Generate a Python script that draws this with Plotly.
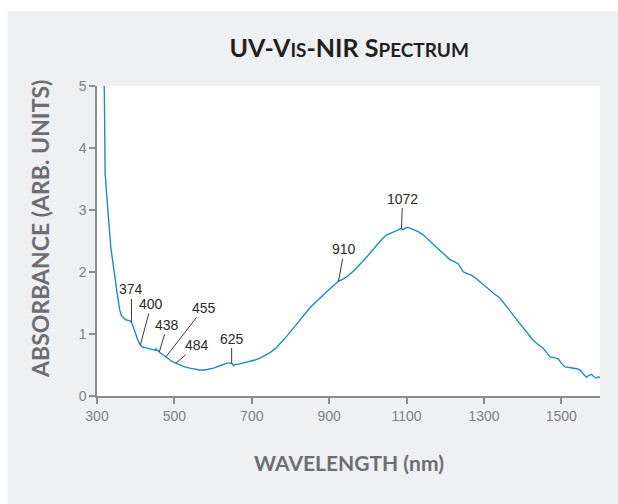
import numpy as np
import plotly.graph_objects as go

# spectrum (wavelength in nm, absorbance)
wavelength = [
    317, 319, 321, 322, 325, 326, 329, 333, 336, 340, 344, 348, 351, 355, 359, 363,
    368, 374, 381, 386, 390, 395, 400, 405, 411, 417, 424, 431, 438, 445, 450, 452,
    456, 461, 465, 470, 476, 482, 489, 496, 504, 514, 527, 540, 553, 566, 579, 590,
    601, 614, 626, 636, 644, 650, 653, 657, 664, 670, 683, 695, 708, 721, 734, 747,
    760, 773, 786, 799, 812, 825, 838, 850, 863, 876, 889, 902, 913, 924, 937, 949,
    962, 975, 988, 1001, 1014, 1027, 1038, 1049, 1058, 1066, 1076, 1082, 1087, 1091,
    1097, 1104, 1112, 1122, 1130, 1143, 1156, 1169, 1182, 1195, 1204, 1212, 1222,
    1234, 1242, 1247, 1258, 1268, 1279, 1290, 1302, 1315, 1328, 1341, 1352, 1363,
    1376, 1389, 1400, 1410, 1420, 1427, 1440, 1453, 1462, 1471, 1482, 1492, 1500,
    1509, 1520, 1531, 1540, 1548, 1556, 1565, 1571, 1578, 1584, 1591, 1596, 1600,
]
absorbance = [
    5.40, 4.90, 3.56, 3.52, 3.24, 3.15, 2.85, 2.52, 2.38, 2.20, 2.05, 1.85, 1.70, 1.52, 1.38, 1.30,
    1.26, 1.23, 1.22, 1.21, 1.18, 1.08, 0.99, 0.91, 0.83, 0.79, 0.78, 0.77, 0.76, 0.75, 0.74, 0.76,
    0.73, 0.71, 0.69, 0.67, 0.64, 0.61, 0.58, 0.55, 0.53, 0.50, 0.47, 0.45, 0.43, 0.42, 0.42, 0.43,
    0.45, 0.48, 0.51, 0.53, 0.53, 0.52, 0.49, 0.51, 0.51, 0.52, 0.53, 0.55, 0.58, 0.61, 0.65, 0.70,
    0.76, 0.84, 0.93, 1.03, 1.13, 1.24, 1.33, 1.42, 1.50, 1.58, 1.65, 1.73, 1.79, 1.85, 1.89, 1.94,
    2.01, 2.09, 2.18, 2.27, 2.37, 2.46, 2.54, 2.60, 2.62, 2.64, 2.67, 2.69, 2.70, 2.68,
    2.71, 2.72, 2.70, 2.68, 2.65, 2.60, 2.52, 2.44, 2.37, 2.30, 2.25, 2.20, 2.17,
    2.13, 2.05, 2.00, 1.97, 1.95, 1.90, 1.84, 1.78, 1.71, 1.64, 1.58, 1.50, 1.41,
    1.30, 1.20, 1.12, 1.04, 0.96, 0.90, 0.83, 0.77, 0.70, 0.63, 0.62, 0.60, 0.53,
    0.47, 0.46, 0.45, 0.44, 0.42, 0.36, 0.30, 0.33, 0.35, 0.31, 0.29, 0.31, 0.29,
]

# labelled bands and where their leader lines touch the curve
band_labels = ["374", "400", "438", "455", "484", "625", "910", "1072"]
band_at = [389, 412, 461, 478, 504, 648, 924, 1087]

x_ticks = [300, 500, 700, 900, 1100, 1300, 1500]
y_ticks = [0, 1, 2, 3, 4, 5]

# pixel offsets of each label from its leader tip
label_offsets = [(0, -33), (11, -41), (8, -27), (38, -49), (21, -18), (0, -25), (6, -32), (1, -30)]

fig = go.Figure()
fig.add_trace(go.Scatter(
    x=wavelength, y=absorbance, mode="lines",
    line=dict(color="#1b8bd1", width=1.4),
    hoverinfo="skip",
))

band_y = np.interp(band_at, wavelength, absorbance)
for lab, bx, by, (dx, dy) in zip(band_labels, band_at, band_y, label_offsets):
    fig.add_annotation(
        x=bx, y=by, text=lab, showarrow=True, arrowhead=0, arrowwidth=1,
        arrowcolor="#3a3a3a", ax=dx, ay=dy, standoff=0,
        font=dict(family="Liberation Sans, Arial", size=14, color="#2b2b2b"),
    )

grey = "#6d6e71"
fig.add_annotation(
    xref="paper", yref="paper", x=-0.1133, y=0.539, textangle=-90, showarrow=False,
    xanchor="center", yanchor="middle",
    text="<b>ABSORBANCE (ARB. UNITS)</b>",
    font=dict(family="Lato", size=23, color=grey),
)
fig.add_annotation(
    xref="paper", yref="paper", x=0.501, y=-0.213, showarrow=False,
    xanchor="center", yanchor="middle",
    text="<b>WAVELENGTH (nm)</b>",
    font=dict(family="Lato", size=21, color=grey),
)

# white margin strips around the grey panel
fig.add_shape(type="rect", xref="paper", yref="paper", x0=-0.3, x1=1.3, y0=1.242, y1=1.35,
              fillcolor="white", line_width=0, layer="below")
fig.add_shape(type="rect", xref="paper", yref="paper", x0=-0.3, x1=-0.178, y0=-0.5, y1=1.35,
              fillcolor="white", line_width=0, layer="below")

axis_common = dict(
    showgrid=False, zeroline=False, showline=True, linecolor="#8a8c8e", linewidth=1.5,
    ticks="outside", ticklen=6, tickwidth=1.5, tickcolor="#8a8c8e",
    tickfont=dict(family="Liberation Sans, Arial", size=14, color="#808285"),
)
fig.update_xaxes(range=[300, 1600], tickvals=x_ticks, **axis_common)
fig.update_yaxes(range=[0, 5], tickvals=y_ticks, **axis_common)

fig.update_layout(
    width=618, height=504,
    margin=dict(l=97, r=18, t=86, b=108),
    paper_bgcolor="#eff0f2", plot_bgcolor="white",
    showlegend=False,
    title=dict(
        text="<b>UV-V<span style='font-size:19px'>IS</span>-NIR S"
             "<span style='font-size:19px'>PECTRUM</span></b>",
        x=0.565, xanchor="center", y=0.905, yanchor="middle",
        font=dict(family="Lato", size=25, color="#231f20"),
    ),
)

fig.write_html("out.html", config={"displayModeBar": False},
               post_script="document.body.style.margin='0px';")
